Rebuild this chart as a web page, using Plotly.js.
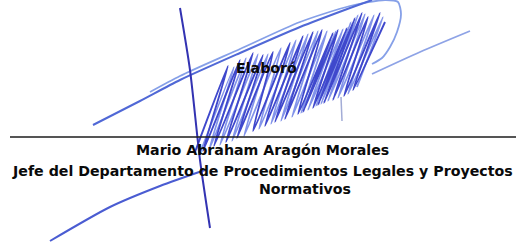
<!DOCTYPE html>
<html>
<head>
<meta charset="utf-8">
<script src="https://cdn.plot.ly/plotly-3.0.1.min.js"></script>
<style>html,body{margin:0;padding:0;background:#fff;}#chart{width:516px;height:242px;}</style>
</head>
<body>
<div id="chart"></div>
<script>
// ---- data (pixel-space coordinates of the drawing) ----
const labelTexts = ["Elaboró", "Mario Abraham Aragón Morales", "Jefe del Departamento de Procedimientos Legales y Proyectos", "Normativos"];
const labelX = [266, 262, 262, 305];
const labelY = [68, 150, 171, 189];

const ruleX = [10, 516];
const ruleY = [137, 137];

const scribbleX = [195,228,203,240,214,253,226,263,237,273,253,290,265,303,275,313,285,322,298,333,303,338,313,347,318,355,324,362,333,368,344,380,353,385];
const scribbleY = [152,66,151,60,146,53,142,55,138,52,131,43,126,36,122,32,119,30,114,33,112,30,108,28,105,18,103,13,100,17,96,13,90,22];
const scribble2X = [200,234,209,246,220,258,232,268,244,281,259,296,271,308,281,318,292,327,301,336,308,343,316,351,321,358,328,365,338,374,348,383,357];
const scribble2Y = [153,67,150,58,145,54,141,54,136,48,129,40,124,34,121,31,117,31,113,31,110,29,106,22,104,15,101,14,98,15,94,17,87];

const diagAX = [93,140,180,240,300,350,372];
const diagAY = [125,101,80,53,27,8,0];
const diagBX = [150,180,240,300,350,385,398,401,397,390,382,372];
const diagBY = [92,76,49,22,6,0,2,14,32,47,58,64];
const diagRX = [372,420,470];
const diagRY = [74,52,31];
const tickX = [341,342];
const tickY = [97,121];
const vertX = [180,190,200,210];
const vertY = [8,70,160,228];
const lowX = [50,110,160,205];
const lowY = [241,207,186,170];

// ---- traces ----
function stroke(x, y, color, width, shape) {
  return {x: x, y: y, type: 'scatter', mode: 'lines', hoverinfo: 'skip',
          line: {color: color, width: width, shape: shape || 'spline', smoothing: 0.7}};
}
const traces = [
  stroke(diagBX, diagBY, '#86a0e8', 1.8),
  stroke(diagAX, diagAY, '#5068d6', 2),
  stroke(diagRX, diagRY, '#8ea3e6', 1.8),
  stroke(tickX, tickY, '#a3acd6', 1.5, 'linear'),
  stroke(scribble2X, scribble2Y, '#8293ea', 1.8),
  stroke(scribbleX, scribbleY, '#3f48cc', 1.9),
  stroke(vertX, vertY, '#3333b2', 2),
  stroke(lowX, lowY, '#4a5cd2', 2),
  stroke(ruleX, ruleY, '#1c1c1c', 1.6, 'linear')
];

const annotations = labelTexts.map((t, i) => ({
  text: '<b>' + t + '</b>', x: labelX[i], y: labelY[i], xref: 'x', yref: 'y',
  showarrow: false, xanchor: 'center', yanchor: 'middle',
  font: {family: 'DejaVu Sans', size: 14.2, color: '#0a0a0a'}
}));

const layout = {
  width: 516, height: 242,
  margin: {l: 0, r: 0, t: 0, b: 0, pad: 0},
  paper_bgcolor: '#ffffff', plot_bgcolor: '#ffffff',
  showlegend: false,
  xaxis: {range: [0, 516], visible: false, fixedrange: true},
  yaxis: {range: [242, 0], visible: false, fixedrange: true},
  annotations: annotations
};
Plotly.newPlot('chart', traces, layout, {staticPlot: true, displayModeBar: false});
</script>
</body>
</html>
